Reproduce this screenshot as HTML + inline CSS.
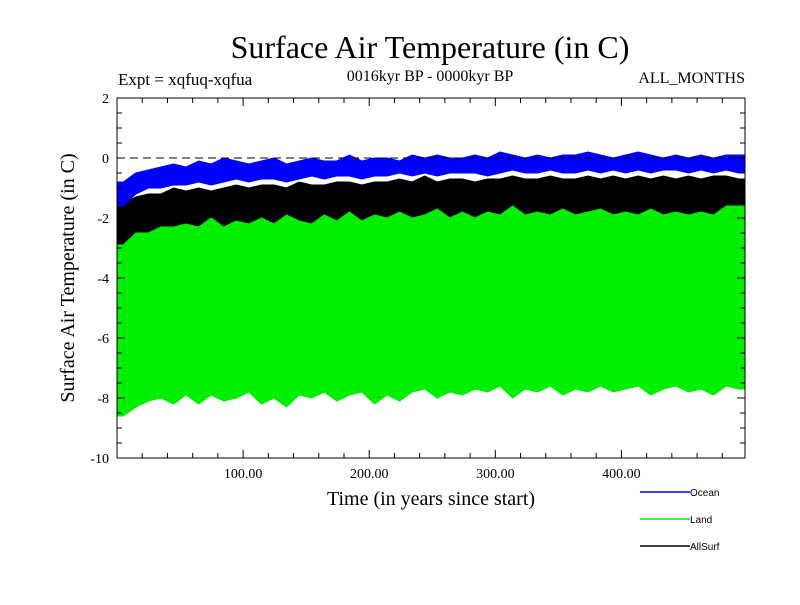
<!DOCTYPE html>
<html><head><meta charset="utf-8"><style>
body{margin:0;background:#fff}
svg text{font-family:"Liberation Serif",serif}
</style></head><body>
<svg id="c" width="800" height="600" xmlns="http://www.w3.org/2000/svg">
<text x="430" y="58" font-size="32" text-anchor="middle">Surface Air Temperature (in C)</text>
<text x="118" y="85" font-size="17">Expt = xqfuq-xqfua</text>
<text x="430" y="81" font-size="16" text-anchor="middle">0016kyr BP - 0000kyr BP</text>
<text x="745" y="83" font-size="16" text-anchor="end">ALL_MONTHS</text>
<text transform="translate(74,278) rotate(-90)" font-size="20" text-anchor="middle">Surface Air Temperature (in C)</text>
<text x="431" y="505" font-size="20" text-anchor="middle">Time (in years since start)</text>
<g id="series"></g>
<g id="axes"></g>
<g id="legend"></g>
</svg>
<script>
const oceanHi=[-0.8,-0.5,-0.4,-0.3,-0.2,-0.3,-0.1,-0.2,0.0,-0.1,-0.2,-0.1,0.0,-0.2,-0.1,0.0,-0.1,-0.1,0.1,-0.1,0.0,0.0,-0.1,0.1,0.0,0.1,0.0,0.0,0.1,0.0,0.2,0.1,0.0,0.1,0.0,0.1,0.1,0.2,0.1,0.0,0.1,0.2,0.1,0.0,0.1,0.0,0.1,0.0,0.1,0.1];
const oceanLo=[-1.6,-1.2,-1.0,-1.0,-0.9,-0.9,-0.8,-0.9,-0.8,-0.7,-0.8,-0.7,-0.7,-0.8,-0.7,-0.6,-0.7,-0.6,-0.6,-0.7,-0.6,-0.6,-0.5,-0.6,-0.5,-0.6,-0.5,-0.5,-0.5,-0.6,-0.5,-0.4,-0.5,-0.5,-0.4,-0.5,-0.5,-0.4,-0.5,-0.4,-0.5,-0.4,-0.5,-0.4,-0.4,-0.5,-0.4,-0.5,-0.4,-0.5];
const allHi=[-1.5,-1.3,-1.2,-1.2,-1.0,-1.1,-1.0,-1.1,-1.0,-0.9,-1.0,-0.9,-0.9,-1.0,-0.8,-0.9,-0.9,-0.8,-0.8,-0.9,-0.8,-0.8,-0.7,-0.8,-0.6,-0.8,-0.7,-0.7,-0.8,-0.7,-0.7,-0.6,-0.7,-0.7,-0.6,-0.7,-0.7,-0.6,-0.7,-0.6,-0.7,-0.6,-0.7,-0.6,-0.7,-0.6,-0.7,-0.6,-0.6,-0.7];
const allLo=[-2.9,-2.7,-2.6,-2.5,-2.6,-2.5,-2.7,-2.5,-2.4,-2.5,-2.6,-2.4,-2.5,-2.4,-2.3,-2.5,-2.4,-2.3,-2.4,-2.3,-2.3,-2.4,-2.2,-2.3,-2.3,-2.2,-2.3,-2.4,-2.2,-2.3,-2.2,-2.3,-2.2,-2.3,-2.2,-2.3,-2.2,-2.4,-2.2,-2.3,-2.2,-2.3,-2.2,-2.3,-2.3,-2.2,-2.3,-2.2,-2.3,-2.3];
const landHi=[-2.9,-2.5,-2.5,-2.3,-2.3,-2.2,-2.3,-2.0,-2.3,-2.1,-2.2,-2.0,-2.2,-1.9,-2.1,-2.2,-1.9,-2.1,-1.8,-2.1,-1.9,-2.0,-1.8,-2.0,-1.9,-1.7,-2.0,-1.8,-2.0,-1.8,-1.9,-1.6,-1.9,-1.8,-1.9,-1.7,-1.9,-1.8,-1.7,-1.9,-1.8,-1.9,-1.7,-1.9,-1.8,-1.9,-1.8,-1.9,-1.6,-1.6];
const landLo=[-8.6,-8.3,-8.1,-8.0,-8.2,-7.9,-8.2,-7.9,-8.1,-8.0,-7.8,-8.2,-8.0,-8.3,-7.9,-8.0,-7.8,-8.1,-7.9,-7.8,-8.2,-7.9,-8.1,-7.8,-7.7,-8.0,-7.8,-7.9,-7.7,-7.8,-7.6,-8.0,-7.7,-7.8,-7.6,-7.9,-7.7,-7.8,-7.6,-7.8,-7.7,-7.6,-7.9,-7.7,-7.6,-7.8,-7.7,-7.9,-7.6,-7.7];
const yTicks=[2,0,-2,-4,-6,-8,-10];
const xTicks=[100,200,300,400];
const xTickLabels=["100.00","200.00","300.00","400.00"];
const X0=117,X1=745,Y0=98,Y1=458,XMAX=498,YMIN=-10,YMAX=2;
const sx=v=>X0+(v/XMAX)*(X1-X0);
const sy=v=>Y0+(YMAX-v)/(YMAX-YMIN)*(Y1-Y0);
const NS="http://www.w3.org/2000/svg";
function mk(t,a,p){const e=document.createElementNS(NS,t);for(const k in a)e.setAttribute(k,a[k]);p.appendChild(e);return e;}
const S=document.getElementById('series'),A=document.getElementById('axes'),L=document.getElementById('legend');
function band(hi,lo,col,name){
  const n=hi.length,step=XMAX/n;let pts=[];
  pts.push([sx(0),sy(hi[0])]);
  for(let i=0;i<n;i++)pts.push([sx(step*i+step/2),sy(hi[i])]);
  pts.push([sx(XMAX),sy(hi[n-1])]);pts.push([sx(XMAX),sy(lo[n-1])]);
  for(let i=n-1;i>=0;i--)pts.push([sx(step*i+step/2),sy(lo[i])]);
  pts.push([sx(0),sy(lo[0])]);
  const p=mk('polygon',{points:pts.map(q=>q.join(',')).join(' '),fill:col,stroke:col,'stroke-width':1},S);
  
  
}
band(allHi,allLo,'#000','allsurf-series');
band(oceanHi,oceanLo,'#0000ff','ocean-series');
band(landHi,landLo,'#00ee00','land-series');
const z=mk('line',{x1:X0,x2:X1,y1:sy(0),y2:sy(0),stroke:'#000','stroke-dasharray':'8,5','stroke-width':1},A);


const fr=mk('rect',{x:X0,y:Y0,width:X1-X0,height:Y1-Y0,fill:'none',stroke:'#000','stroke-width':1},A);


for(let v=-10;v<=2;v+=0.5){const y=sy(v),big=Number.isInteger(v)&&v%2===0,l=big?8:5;
  mk('line',{x1:X0,x2:X0+l,y1:y,y2:y,stroke:'#000'},A);mk('line',{x1:X1,x2:X1-l,y1:y,y2:y,stroke:'#000'},A);}
yTicks.forEach(v=>{const t=mk('text',{x:X0-8,y:sy(v)+5,'font-size':14,'text-anchor':'end'},A);t.textContent=v;
  
  });
for(let v=20;v<XMAX;v+=20){const x=sx(v),l=v%100===0?8:5;
  mk('line',{x1:x,x2:x,y1:Y1,y2:Y1-l,stroke:'#000'},A);mk('line',{x1:x,x2:x,y1:Y0,y2:Y0+l,stroke:'#000'},A);}
xTicks.forEach((v,i)=>{const t=mk('text',{x:sx(v),y:Y1+20,'font-size':14,'text-anchor':'middle'},A);t.textContent=xTickLabels[i];
  
  });
[['Ocean','#0000ff',492],['Land','#00ee00',519],['AllSurf','#000',546]].forEach(e=>{
  const g=mk('g',{},L);
  
  
  mk('line',{x1:640,x2:690,y1:e[2],y2:e[2],stroke:e[1],'stroke-width':1.5},g);
  const t=mk('text',{x:690,y:e[2]+4,'font-size':10,style:'font-family:"Liberation Sans",sans-serif'},g);t.textContent=e[0];});
</script>
</body></html>
